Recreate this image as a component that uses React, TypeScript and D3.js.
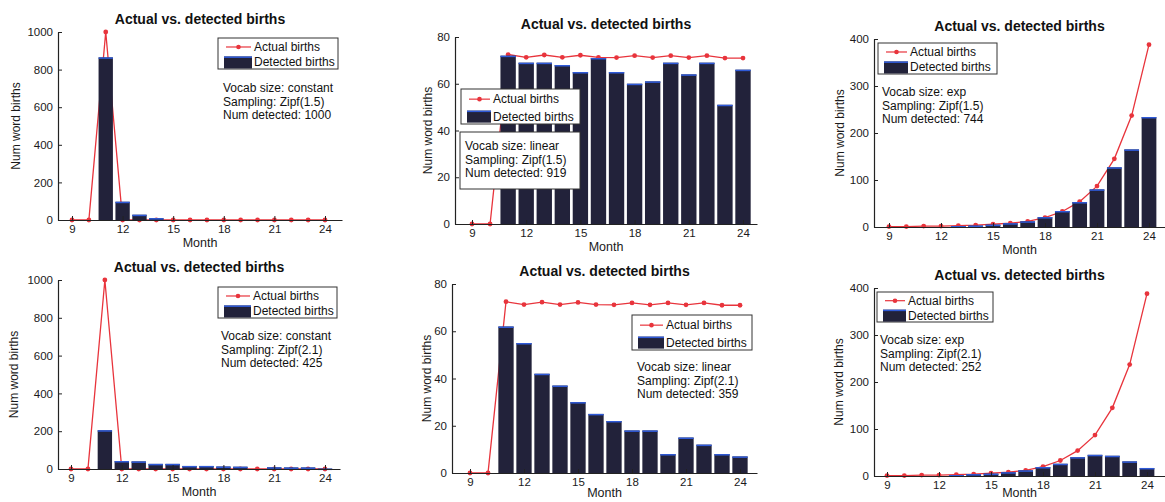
import React, { useEffect, useRef } from 'react';
import * as d3 from 'd3';

// months on the x axis
const months = [9, 10, 11, 12, 13, 14, 15, 16, 17, 18, 19, 20, 21, 22, 23, 24];
const xTickValues = [9, 12, 15, 18, 21, 24];

const yTicksConstant = [0, 200, 400, 600, 800, 1000];
const yTicksLinear = [0, 20, 40, 60, 80];
const yTicksExp = [0, 100, 200, 300, 400];

// actual births per vocab model
const actualConstant = [0, 0, 1000, 0, 0, 0, 0, 0, 0, 0, 0, 0, 0, 0, 0, 0];
const actualLinear = [0, 0, 72.5, 71.3, 72.3, 71.3, 72.2, 71.3, 71.2, 72, 71.2, 72, 71.2, 72, 71, 71];
const actualExp = [1, 1, 2, 2, 3, 4, 6, 8, 12, 20, 33, 54, 87, 145, 237, 388];

// detected births, Zipf(1.5)
const detectedConstantZ15 = [0, 0, 865, 97, 28, 10, 0, 0, 0, 0, 0, 0, 0, 0, 0, 0];
const detectedLinearZ15 = [0, 0, 72, 69, 69, 68, 65, 71, 65, 60, 61, 69, 64, 69, 51, 66];
const detectedExpZ15 = [0, 0, 0, 0, 2, 3, 5, 8, 12, 21, 34, 53, 80, 127, 165, 234];

// detected births, Zipf(2.1)
const detectedConstantZ21 = [0, 0, 205, 42, 40, 27, 27, 16, 16, 13, 12, 0, 9, 8, 8, 2];
const detectedLinearZ21 = [0, 0, 62, 55, 42, 37, 30, 25, 22, 18, 18, 8, 15, 12, 8, 7];
const detectedExpZ21 = [0, 0, 0, 0, 2, 4, 5, 8, 12, 19, 26, 40, 45, 43, 31, 17];

const title = 'Actual vs. detected births';
const legendLabels = ['Actual births', 'Detected births'];

const notesConstantZ15 = ['Vocab size: constant', 'Sampling: Zipf(1.5)', 'Num detected: 1000'];
const notesLinearZ15 = ['Vocab size: linear', 'Sampling: Zipf(1.5)', 'Num detected: 919'];
const notesExpZ15 = ['Vocab size: exp', 'Sampling: Zipf(1.5)', 'Num detected: 744'];
const notesConstantZ21 = ['Vocab size: constant', 'Sampling: Zipf(2.1)', 'Num detected: 425'];
const notesLinearZ21 = ['Vocab size: linear', 'Sampling: Zipf(2.1)', 'Num detected: 359'];
const notesExpZ21 = ['Vocab size: exp', 'Sampling: Zipf(2.1)', 'Num detected: 252'];

const FONT = '"Liberation Sans", Arial, Helvetica, sans-serif';
const RED = '#e8343c';
const BAR = '#22223a';
const BLUE = '#2f5ad8';

const panels = [
  {
    actual: actualConstant, detected: detectedConstantZ15, notes: notesConstantZ15,
    yMax: 1000, yTicks: yTicksConstant,
    geo: { left: 58, x9: 72, x24: 325, right: 342, top: 32, bottom: 220, ylab: 42 },
    legend: { x: 218, y: 38, w: 120, h: 31, tx: 36 },
    note: { x: 223, y: 88, box: null },
  },
  {
    actual: actualLinear, detected: detectedLinearZ15, notes: notesLinearZ15,
    yMax: 80, yTicks: yTicksLinear,
    geo: { left: 455, x9: 472, x24: 743, right: 757, top: 37, bottom: 224, ylab: 27 },
    legend: { x: 461, y: 89, w: 119, h: 35, tx: 32 },
    note: { x: 465, y: 146, box: { x: 460, y: 132, w: 120, h: 57 } },
  },
  {
    actual: actualExp, detected: detectedExpZ15, notes: notesExpZ15,
    yMax: 400, yTicks: yTicksExp,
    geo: { left: 874, x9: 889, x24: 1149, right: 1165, top: 39, bottom: 227, ylab: 34 },
    legend: { x: 878, y: 43, w: 119, h: 31, tx: 32 },
    note: { x: 882, y: 92, box: null },
  },
  {
    actual: actualConstant, detected: detectedConstantZ21, notes: notesConstantZ21,
    yMax: 1000, yTicks: yTicksConstant,
    geo: { left: 58, x9: 71, x24: 325, right: 340, top: 280, bottom: 469, ylab: 44 },
    legend: { x: 218, y: 287, w: 119, h: 31, tx: 35 },
    note: { x: 221, y: 336, box: null },
  },
  {
    actual: actualLinear, detected: detectedLinearZ21, notes: notesLinearZ21,
    yMax: 80, yTicks: yTicksLinear,
    geo: { left: 452, x9: 470, x24: 740, right: 757, top: 284, bottom: 473, ylab: 25 },
    legend: { x: 632, y: 315, w: 120, h: 35, tx: 34 },
    note: { x: 637, y: 367, box: null },
  },
  {
    actual: actualExp, detected: detectedExpZ21, notes: notesExpZ21,
    yMax: 400, yTicks: yTicksExp,
    geo: { left: 874, x9: 887, x24: 1147, right: 1165, top: 288, bottom: 476, ylab: 35 },
    legend: { x: 877, y: 292, w: 116, h: 30, tx: 31 },
    note: { x: 880, y: 340, box: null },
  },
];

function Panel({ spec }) {
  const xRef = useRef(null);
  const yRef = useRef(null);
  const g = spec.geo;

  const x0 = d3.scaleLinear().domain([9, 24]).range([g.x9, g.x24]);
  const x = d3.scaleLinear().domain([x0.invert(g.left), x0.invert(g.right)]).range([g.left, g.right]);
  const y = d3.scaleLinear().domain([0, spec.yMax]).range([g.bottom, g.top]);
  const bw = (x(10) - x(9)) * 0.85;

  useEffect(() => {
    const xa = d3.axisBottom(x).tickValues(xTickValues).tickSizeInner(-4).tickSizeOuter(0).tickPadding(5);
    const ya = d3.axisLeft(y).tickValues(spec.yTicks).tickFormat(d3.format('d')).tickSizeInner(-4).tickSizeOuter(0).tickPadding(5);
    [d3.select(xRef.current).call(xa), d3.select(yRef.current).call(ya)].forEach((s) => {
      s.select('.domain').attr('stroke', '#222').attr('stroke-width', 1.2);
      s.selectAll('.tick line').attr('stroke', '#222');
      s.selectAll('.tick text').attr('fill', '#1a1a1a').attr('font-size', 11.5).attr('font-family', FONT);
    });
  });

  const line = d3.line<number>().x((_, i) => x(months[i])).y((d) => y(d));
  const midX = (g.left + g.right) / 2;
  const lg = spec.legend;
  const r1 = lg.y + lg.h * 0.29;
  const r2 = lg.y + lg.h * 0.79;

  return (
    <g>
      <text x={midX} y={g.top - 8.5} textAnchor="middle" fontWeight="bold" fontSize={14} fill="#111">{title}</text>

      <path d={line(spec.actual)} fill="none" stroke={RED} strokeWidth={1.3} />
      {spec.actual.map((d, i) => (
        <circle key={'m' + i} cx={x(months[i])} cy={y(d)} r={2.4} fill={RED} />
      ))}

      {spec.detected.map((d, i) => d > 0 ? (
        <g key={'b' + i}>
          <rect x={x(months[i]) - bw / 2} y={y(d)} width={bw} height={y(0) - y(d)} fill={BAR} />
          <line x1={x(months[i]) - bw / 2} x2={x(months[i]) + bw / 2} y1={y(d) + 0.7} y2={y(d) + 0.7} stroke={BLUE} strokeWidth={1.5} />
        </g>
      ) : null)}

      <g ref={xRef} transform={`translate(0,${g.bottom})`} />
      <g ref={yRef} transform={`translate(${g.left},0)`} />

      <text x={midX} y={Math.min(g.bottom + 27, 497)} textAnchor="middle" fontSize={12.5} fill="#1a1a1a">Month</text>
      <text transform={`translate(${g.left - g.ylab},${(g.top + g.bottom) / 2}) rotate(-90)`} textAnchor="middle" dy="0.35em" fontSize={12} fill="#1a1a1a">Num word births</text>

      <rect x={lg.x} y={lg.y} width={lg.w} height={lg.h} fill="#fff" stroke="#333" strokeWidth={1} />
      <line x1={lg.x + 8} x2={lg.x + lg.tx - 3} y1={r1} y2={r1} stroke={RED} strokeWidth={1.2} />
      <circle cx={lg.x + (lg.tx + 5) / 2} cy={r1} r={2.3} fill={RED} />
      <text x={lg.x + lg.tx} y={r1 + 4} fontSize={12} fill="#111">{legendLabels[0]}</text>
      <rect x={lg.x + 6} y={r2 - 6} width={lg.tx - 8} height={12} fill={BAR} />
      <line x1={lg.x + 6} x2={lg.x + lg.tx - 2} y1={r2 - 5.3} y2={r2 - 5.3} stroke={BLUE} strokeWidth={1.5} />
      <text x={lg.x + lg.tx} y={r2 + 4} fontSize={12} fill="#111">{legendLabels[1]}</text>

      {spec.note.box ? (
        <rect x={spec.note.box.x} y={spec.note.box.y} width={spec.note.box.w} height={spec.note.box.h} fill="#fff" stroke="#333" strokeWidth={1} />
      ) : null}
      {spec.notes.map((t, i) => (
        <text key={'n' + i} x={spec.note.x} y={spec.note.y + 4 + i * 13.5} fontSize={12} fill="#111">{t}</text>
      ))}
    </g>
  );
}

export default function App() {
  return (
    <svg width={1165} height={502} style={{ position: 'absolute', left: 0, top: 0, background: '#fff' }} fontFamily={FONT}>
      {panels.map((p, i) => <Panel key={i} spec={p} />)}
    </svg>
  );
}
